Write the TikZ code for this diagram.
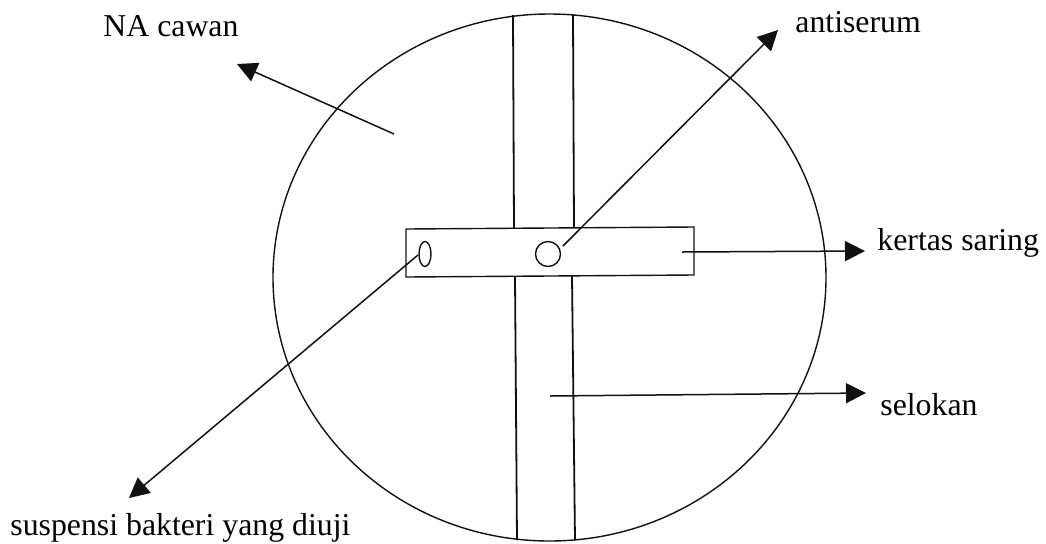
\documentclass[tikz,border=0pt]{standalone}
\usepackage{fontspec}
\setmainfont{Liberation Serif}
\usetikzlibrary{arrows.meta, shapes.geometric}
\definecolor{Ink}{HTML}{111111}
\tikzset{
    outline/.style={draw=Ink, line width=0.7pt},
    groove/.style={draw=Ink, line width=0.9pt},
    arrow/.style={-{Triangle[length=10pt, width=10pt]}, draw=Ink, line width=0.75pt},
    label/.style={anchor=base west, inner sep=0pt, text=black, font=\fontsize{15.9}{18}\selectfont},
}
\begin{document}
\begin{tikzpicture}[x=0.5pt, y=-0.5pt]
    \useasboundingbox (0,0) rectangle (1046,543);

    % Cawan
    \node[ellipse, outline, minimum width=276.5pt, minimum height=263.5pt, inner sep=0pt] (cawan) at (549.5,277.5) {};

    % Selokan
    \draw[groove] (513,15) -- (514,228);
    \draw[groove] (573,15) -- (574,228);
    \draw[groove] (515,277) -- (517,540);
    \draw[groove] (572,276) -- (575,540);

    % Kertas saring
    \draw[outline, fill=white] (406,229) -- (694,227) -- (694,275) -- (406,277) -- cycle;
    \node[circle, outline, minimum size=12.5pt, inner sep=0pt] (sumurA) at (548,254) {};
    \node[ellipse, outline, minimum width=6pt, minimum height=12.5pt, inner sep=0pt] (sumurB) at (425,254) {};

    % Label
    \node[label] (na) at (103,36) {NA cawan};
    \node[label] (anti) at (795,32) {antiserum};
    \node[label] (kertas) at (877,250) {kertas saring};
    \node[label] (selokan) at (880,415) {selokan};
    \node[label] (suspensi) at (10,535) {suspensi bakteri yang diuji};

    % Panah
    \coordinate (naS) at (394,134);
    \coordinate (naE) at (237,64);
    \coordinate (antiS) at (563,246);
    \coordinate (antiE) at (778,30);
    \coordinate (kertasS) at (682,252);
    \coordinate (kertasE) at (865,251);
    \coordinate (selokanS) at (550,396);
    \coordinate (selokanE) at (866,393);
    \coordinate (suspensiS) at (418,255);
    \coordinate (suspensiE) at (129,498);
    \draw[arrow] (naS) -- (naE);
    \draw[arrow] (antiS) -- (antiE);
    \draw[arrow] (kertasS) -- (kertasE);
    \draw[arrow] (selokanS) -- (selokanE);
    \draw[arrow] (suspensiS) -- (suspensiE);
\end{tikzpicture}
\end{document}
